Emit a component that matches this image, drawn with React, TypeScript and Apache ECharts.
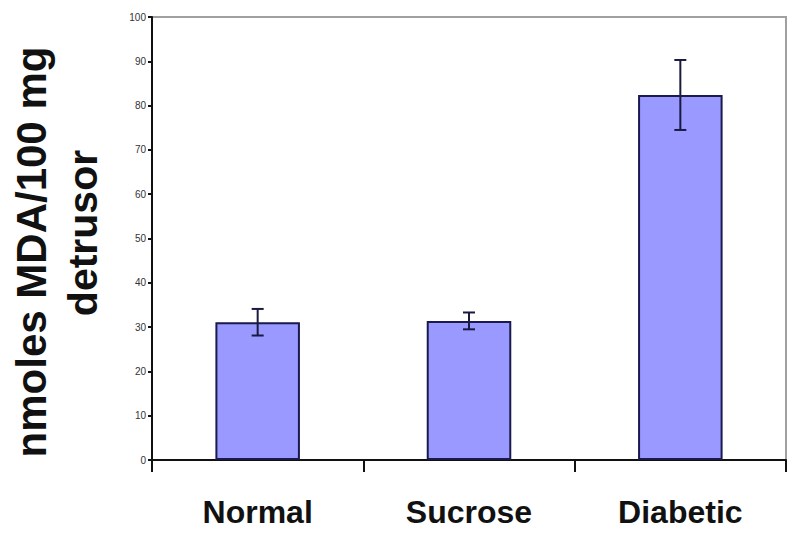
import React, { useEffect, useRef } from "react";
import * as echarts from "echarts";

const categories = ["Normal", "Sucrose", "Diabetic"];
const means = [31.1, 31.4, 82.4];
const errors = [3.0, 1.9, 7.9];
const yTicks = { min: 0, max: 100, interval: 10 };
const yTitleLines = ["nmoles MDA/100 mg", "detrusor"];

const FONT = "Liberation Sans, Arial, sans-serif";

export default function App() {
  const ref = useRef<HTMLDivElement>(null);
  useEffect(() => {
    if (!ref.current) return;
    const chart = echarts.init(ref.current, null, { renderer: "svg" });
    const errData = categories.map((c, i) => [i, means[i] - errors[i], means[i] + errors[i]]);
    chart.setOption({
      animation: false,
      backgroundColor: "#ffffff",
      grid: {
        left: 152,
        right: 14,
        top: 17,
        bottom: 82,
        containLabel: false,
        outerBoundsMode: "none",
        show: true,
        borderColor: "#a0a0a0",
        borderWidth: 2,
        backgroundColor: "transparent",
      },
      graphic: [
        {
          type: "text",
          x: 31,
          y: 252,
          rotation: Math.PI / 2,
          style: {
            text: yTitleLines[0],
            font: `bold 42px ${FONT}`,
            fill: "#111111",
            textAlign: "center",
            textVerticalAlign: "middle",
          },
        },
        {
          type: "text",
          x: 83,
          y: 233,
          rotation: Math.PI / 2,
          style: {
            text: yTitleLines[1],
            font: `bold 41px ${FONT}`,
            fill: "#111111",
            textAlign: "center",
            textVerticalAlign: "middle",
          },
        },
      ],
      xAxis: {
        type: "category",
        data: categories,
        boundaryGap: true,
        axisLine: { lineStyle: { color: "#111111", width: 2 } },
        axisTick: { show: true, alignWithLabel: false, length: 12, lineStyle: { color: "#111111", width: 2 } },
        axisLabel: {
          fontFamily: FONT,
          fontWeight: "bold",
          fontSize: 32,
          color: "#111111",
          margin: 36,
        },
      },
      yAxis: {
        type: "value",
        min: yTicks.min,
        max: yTicks.max,
        interval: yTicks.interval,
        splitLine: { show: false },
        axisLine: { show: true, lineStyle: { color: "#111111", width: 2 } },
        axisTick: { show: true, length: 4, lineStyle: { color: "#111111", width: 2 } },
        axisLabel: {
          fontFamily: FONT,
          fontSize: 10,
          color: "#333333",
          margin: 6,
        },
      },
      series: [
        {
          type: "bar",
          data: means,
          barWidth: "40%",
          itemStyle: { color: "#9999ff", borderColor: "#1a1a4d", borderWidth: 2 },
          z: 2,
        },
        {
          type: "custom",
          data: errData,
          z: 5,
          renderItem: (params: any, api: any) => {
            const x = api.value(0);
            const lo = api.coord([x, api.value(1)]);
            const hi = api.coord([x, api.value(2)]);
            const cap = 6;
            const style = { stroke: "#1a1a40", lineWidth: 2 };
            return {
              type: "group",
              children: [
                { type: "line", shape: { x1: hi[0], y1: hi[1], x2: lo[0], y2: lo[1] }, style },
                { type: "line", shape: { x1: hi[0] - cap, y1: hi[1], x2: hi[0] + cap, y2: hi[1] }, style },
                { type: "line", shape: { x1: lo[0] - cap, y1: lo[1], x2: lo[0] + cap, y2: lo[1] }, style },
              ],
            };
          },
        },
      ],
    });
    return () => chart.dispose();
  }, []);
  return <div ref={ref} style={{ width: 800, height: 542, position: "absolute", left: 0, top: 0 }} />;
}
